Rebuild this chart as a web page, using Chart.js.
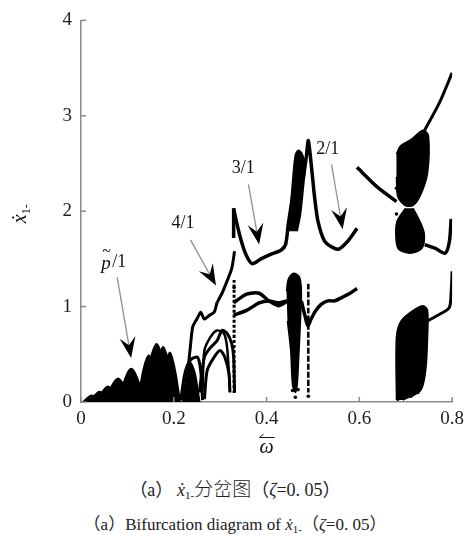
<!DOCTYPE html>
<html>
<head>
<meta charset="utf-8">
<script src="https://cdn.jsdelivr.net/npm/chart.js@4.4.1/dist/chart.umd.min.js"></script>
<style>
  html, body { margin: 0; padding: 0; background: #fff; }
  #wrap { position: relative; width: 470px; height: 470px; }
  .cap { position: absolute; left: 0; width: 470px; text-align: center; white-space: nowrap;
         font-family: "Liberation Serif", "Times New Roman", "DejaVu Serif", "Noto Sans CJK SC", serif;
         font-size: 17px; line-height: 20px; color: #222; }
  .cap i { font-style: italic; }
  .cap sub { font-size: 11px; vertical-align: -3px; }
  .cap .cjk { font-family: "Noto Sans CJK SC", sans-serif; font-size: 19px; font-weight: 300; }
</style>
</head>
<body>
<div id="wrap"><canvas id="mainChart" width="470" height="470"></canvas></div>
<div class="cap" style="top:478px; font-size:18px">（a）&thinsp;<i>ẋ</i><sub>1-</sub><span class="cjk">分岔图</span>（<i>ζ</i>=0. 05）</div>
<div class="cap" style="top:515px">（a）Bifurcation diagram of <i>ẋ</i><sub>1-</sub>（<i>ζ</i>=0. 05）</div>
<script>
const SERIF = '"Liberation Serif", "Times New Roman", "DejaVu Serif", serif';

// axis ticks
const xTicks = [0, 0.2, 0.4, 0.6, 0.8];
const xTickLabels = ["0", "0.2", "0.4", "0.6", "0.8"];
const yTicks = [0, 1, 2, 3, 4];

// [omega, x1 velocity]
// low-frequency humps (solid black)
const humpA = [[0.004,0],[0.014,0.045],[0.023,0.07],[0.033,0.045],[0.046,0]];
const humpB = [[0.018,0],[0.030,0.075],[0.040,0.11],[0.052,0.075],[0.068,0]];
const humpC = [[0.034,0],[0.047,0.115],[0.058,0.165],[0.071,0.115],[0.090,0]];
const humpD = [[0.052,0],[0.066,0.17],[0.080,0.25],[0.094,0.17],[0.112,0]];
const humpE = [[0.080,0],[0.095,0.25],[0.108,0.35],[0.121,0.26],[0.138,0]];
const archF1 = [[0.122,0],[0.134,0.34],[0.146,0.49],[0.156,0.38],[0.168,0]];
const archF2 = [[0.138,0],[0.150,0.46],[0.163,0.61],[0.175,0.46],[0.190,0]];
const archF3 = [[0.155,0],[0.167,0.44],[0.177,0.58],[0.190,0.40],[0.204,0]];
const archF4 = [[0.170,0],[0.181,0.38],[0.192,0.52],[0.203,0.34],[0.214,0]];
const archG0 = [[0.218,0],[0.226,0.25],[0.236,0.41],[0.246,0.30],[0.256,0]];
// thin arches 0.21-0.33
const archG1 = [[0.215,0.02],[0.224,0.30],[0.236,0.44],[0.251,0.47],[0.258,0.33],[0.262,0.02]];
const archG2 = [[0.255,0.10],[0.266,0.47],[0.279,0.57],[0.293,0.64],[0.304,0.75],[0.315,0.72],[0.325,0.61],[0.329,0.47],[0.331,0.10]];
const archG3 = [[0.266,0.03],[0.272,0.33],[0.287,0.47],[0.300,0.54],[0.310,0.47],[0.319,0.30],[0.321,0.10]];
const archG4 = [[0.262,0.12],[0.266,0.54],[0.279,0.68],[0.293,0.75],[0.308,0.72],[0.315,0.57],[0.321,0.12]];
const jagged = [[0.229,0.09],[0.231,0.35],[0.236,0.59],[0.241,0.79],[0.251,0.88],[0.258,0.94],[0.266,0.87],[0.277,0.91],[0.287,0.94],[0.293,1.04]];
const curve41 = [[0.293,1.04],[0.304,1.14],[0.315,1.27],[0.325,1.40],[0.331,1.58]];
const band033top = [[0.329,2.03],[0.329,1.72]];
const band033low = [[0.330,1.28],[0.330,0.08]];
// 3/1 and 2/1 branches
const curve31 = [[0.329,2.03],[0.336,1.87],[0.346,1.68],[0.357,1.53],[0.369,1.45],[0.388,1.50],[0.410,1.55],[0.431,1.59],[0.441,1.65],[0.447,1.87],[0.456,2.15]];
const cloudUpper = [[0.447,1.79],[0.452,2.07],[0.456,2.31],[0.462,2.59],[0.469,2.64],[0.477,2.60],[0.483,2.48],[0.479,2.23],[0.473,1.96],[0.466,1.79]];
const curve21 = [[0.479,2.34],[0.486,2.58],[0.490,2.74],[0.498,2.41],[0.503,2.17],[0.511,1.89],[0.526,1.68],[0.553,1.60],[0.574,1.68],[0.595,1.82]];
const lowerA = [[0.329,1.04],[0.357,1.13],[0.384,1.14],[0.405,1.06],[0.426,1.01],[0.445,1.06]];
const lowerB = [[0.329,0.91],[0.357,0.96],[0.384,1.04],[0.405,1.06],[0.426,1.04],[0.445,1.06]];
const cloudLower = [[0.443,1.16],[0.447,1.29],[0.458,1.35],[0.471,1.31],[0.475,1.16],[0.473,0.85],[0.469,0.44],[0.466,0.18],[0.462,0.10],[0.456,0.18],[0.452,0.54],[0.445,0.85]];
const spike049 = [[0.490,1.24],[0.490,0.10]];
const lowerC = [[0.475,1.06],[0.483,0.90],[0.489,0.80],[0.496,0.87],[0.505,0.95],[0.517,1.02],[0.532,1.06],[0.547,1.06],[0.564,1.10],[0.580,1.14],[0.595,1.19]];
// 0.6-0.8 region
const descend = [[0.595,2.46],[0.637,2.26],[0.680,2.10]];
const bowTop = [[0.680,2.60],[0.688,2.68],[0.711,2.75],[0.737,2.85],[0.749,2.79],[0.747,2.40],[0.732,2.17],[0.716,2.06],[0.699,2.06],[0.683,2.15],[0.680,2.36]];
const bowBottom = [[0.699,2.03],[0.681,1.89],[0.679,1.71],[0.685,1.60],[0.709,1.56],[0.735,1.61],[0.740,1.76],[0.731,1.89],[0.716,2.03]];
const riseTop = [[0.741,2.85],[0.773,3.14],[0.800,3.45]];
const tailMid = [[0.741,1.65],[0.764,1.61],[0.785,1.56],[0.794,1.68],[0.798,1.92]];
const blobLow = [[0.680,0.02],[0.680,0.68],[0.690,0.85],[0.716,0.96],[0.737,1.01],[0.747,0.96],[0.747,0.68],[0.743,0.33],[0.732,0.12],[0.694,0.02]];
const tailLow = [[0.747,0.85],[0.773,0.92],[0.794,0.99],[0.798,1.16],[0.800,1.37]];
const looseDots = [[0.680,2.24],[0.680,1.97],[0.456,0.12],[0.462,0.05],[0.468,0.13],[0.683,0.03],[0.711,0.06],[0.726,0.10],[0.694,0.04],[0.330,1.20],[0.490,0.06]];

// annotations: arrow start, arrow tip, label
const arrowFrom = [[0.078,1.31],[0.236,1.70],[0.361,2.28],[0.540,2.49]];
const arrowTo = [[0.108,0.46],[0.291,1.22],[0.384,1.65],[0.564,1.81]];
const labelPos = [[0.074,1.46],[0.220,1.87],[0.350,2.45],[0.532,2.65]];
const labelText = ["p/1", "4/1", "3/1", "2/1"];

const pts = a => a.map(([x, y]) => ({x, y}));
const blob = a => ({ data: pts(a), fill: "shape", backgroundColor: "#000", borderColor: "#000", borderWidth: 1.5, tension: 0.3 });
const curve = (a, w, dash) => ({ data: pts(a), fill: false, borderColor: "#000", borderWidth: w || 3, tension: 0.25, borderDash: dash || [] });

const datasets = [
  blob(humpA), blob(humpB), blob(humpC), blob(humpD), blob(humpE),
  blob(archF1), blob(archF2), blob(archF3), blob(archF4), blob(archG0),
  curve(archG1, 3), curve(archG2, 3), curve(archG3, 3), curve(archG4, 2.5), curve(jagged, 3), curve(curve41, 3),
  curve(band033top, 3.5), curve(band033low, 3, [3, 2]),
  curve(curve31, 3.5), blob(cloudUpper), curve(curve21, 3.5),
  curve(lowerA, 3.5), curve(lowerB, 3.5), blob(cloudLower), curve(spike049, 2.5, [6, 2]), curve(lowerC, 3.5),
  curve(descend, 3.5), blob(bowTop), blob(bowBottom), curve(riseTop, 3), curve(tailMid, 3.5),
  blob(blobLow), curve(tailLow, 3),
  { data: pts(looseDots), showLine: false, pointRadius: 1.8, pointBackgroundColor: "#000", pointBorderWidth: 0 }
];

const annot = {
  id: "annot",
  afterDatasetsDraw(chart) {
    const {ctx, scales: {x, y}, chartArea: a} = chart;
    ctx.save();
    // inward tick marks
    ctx.strokeStyle = "#8a8a8a";
    ctx.lineWidth = 1.5;
    yTicks.forEach(v => {
      const py = y.getPixelForValue(v);
      ctx.beginPath(); ctx.moveTo(a.left, py); ctx.lineTo(a.left + 5, py); ctx.stroke();
    });
    xTicks.forEach(v => {
      const px = x.getPixelForValue(v);
      ctx.beginPath(); ctx.moveTo(px, a.bottom); ctx.lineTo(px, a.bottom - 5); ctx.stroke();
    });
    // arrows
    arrowFrom.forEach((f, i) => {
      const fx = x.getPixelForValue(f[0]), fy = y.getPixelForValue(f[1]);
      const tx = x.getPixelForValue(arrowTo[i][0]), ty = y.getPixelForValue(arrowTo[i][1]);
      const len = Math.hypot(tx - fx, ty - fy);
      const dx = (tx - fx) / len, dy = (ty - fy) / len;
      ctx.strokeStyle = "#909090";
      ctx.lineWidth = 1.3;
      ctx.beginPath(); ctx.moveTo(fx, fy); ctx.lineTo(tx - 12 * dx, ty - 12 * dy); ctx.stroke();
      ctx.fillStyle = "#000";
      ctx.beginPath();
      ctx.moveTo(tx, ty);
      ctx.lineTo(tx - 21 * dx - 8 * dy, ty - 21 * dy + 8 * dx);
      ctx.lineTo(tx - 13 * dx, ty - 13 * dy);
      ctx.lineTo(tx - 21 * dx + 8 * dy, ty - 21 * dy - 8 * dx);
      ctx.closePath(); ctx.fill();
    });
    // labels
    ctx.fillStyle = "#111";
    ctx.textBaseline = "middle";
    labelPos.forEach((p, i) => {
      const px = x.getPixelForValue(p[0]), py = y.getPixelForValue(p[1]);
      if (i === 0) {
        ctx.font = "italic 19px " + SERIF;
        ctx.textAlign = "left";
        ctx.fillText("p", px - 14, py + 1);
        ctx.font = "16px " + SERIF;
        ctx.fillText("~", px - 13, py - 11);
        ctx.font = "18px " + SERIF;
        ctx.fillText("/1", px - 3, py);
      } else {
        ctx.font = "18px " + SERIF;
        ctx.textAlign = "center";
        ctx.fillText(labelText[i], px, py);
      }
    });
    // x axis title: omega with left harpoon
    const cx = (a.left + a.right) / 2;
    ctx.font = "italic 20px " + SERIF;
    ctx.textAlign = "center";
    ctx.fillText("ω", cx, 448);
    ctx.strokeStyle = "#111"; ctx.lineWidth = 1;
    ctx.beginPath(); ctx.moveTo(cx - 7, 437.5); ctx.lineTo(cx + 8, 437.5); ctx.stroke();
    ctx.beginPath(); ctx.moveTo(cx - 7, 437.5); ctx.lineTo(cx - 3, 434); ctx.stroke();
    // y axis title, rotated
    ctx.translate(20, (a.top + a.bottom) / 2 + 4);
    ctx.rotate(-Math.PI / 2);
    ctx.textAlign = "left";
    ctx.textBaseline = "alphabetic";
    ctx.font = "italic 20px " + SERIF;
    ctx.fillText("ẋ", -8, 6);
    const w = ctx.measureText("ẋ").width;
    ctx.font = "12px " + SERIF;
    ctx.fillText("1-", -8 + w, 10);
    ctx.restore();
  }
};

new Chart(document.getElementById("mainChart"), {
  type: "line",
  data: { datasets },
  plugins: [annot],
  options: {
    responsive: false,
    animation: false,
    layout: { padding: { top: 17, right: 10, left: 0, bottom: 0 } },
    elements: { point: { radius: 0 } },
    plugins: { legend: { display: false }, tooltip: { enabled: false } },
    scales: {
      x: {
        type: "linear", min: 0, max: 0.8,
        afterFit: s => { s.height = 68; },
        afterBuildTicks: s => { s.ticks = xTicks.map(v => ({ value: v })); },
        grid: { display: false, drawTicks: false },
        border: { color: "#8a8a8a", width: 1.5 },
        ticks: { padding: 6, color: "#222", font: { family: SERIF, size: 19 },
                 maxRotation: 0, callback: (v, i) => xTickLabels[i] }
      },
      y: {
        min: 0, max: 4,
        afterFit: s => { s.width = 81; },
        afterBuildTicks: s => { s.ticks = yTicks.map(v => ({ value: v })); },
        grid: { display: false, drawTicks: false },
        border: { color: "#8a8a8a", width: 1.5 },
        ticks: { padding: 9, color: "#222", font: { family: SERIF, size: 19 } }
      }
    }
  }
});
</script>
</body>
</html>
